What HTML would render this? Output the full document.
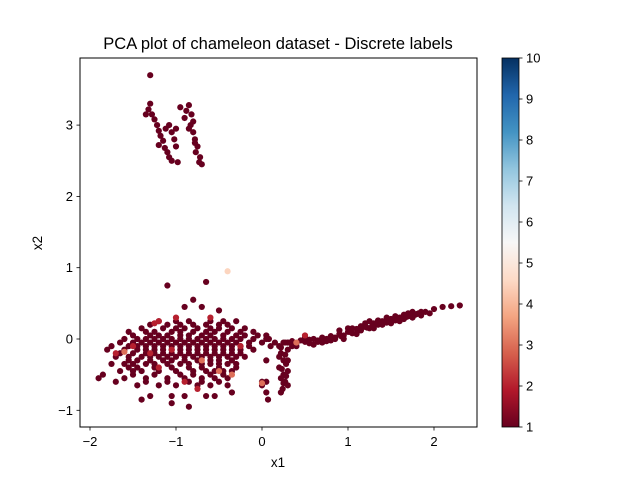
<!DOCTYPE html>
<html><head><meta charset="utf-8">
<style>
body{margin:0;background:#fff;}
svg{display:block;font-family:"Liberation Sans","DejaVu Sans",sans-serif;}
</style></head>
<body>
<svg id="chart" width="640" height="480" viewBox="0 0 640 480">
<defs>
<linearGradient id="cbg" x1="0" y1="1" x2="0" y2="0">
<stop offset="0" stop-color="#67001f"/><stop offset="0.1" stop-color="#b2182b"/><stop offset="0.2" stop-color="#d6604d"/><stop offset="0.3" stop-color="#f4a582"/><stop offset="0.4" stop-color="#fddbc7"/><stop offset="0.5" stop-color="#f7f7f7"/><stop offset="0.6" stop-color="#d1e5f0"/><stop offset="0.7" stop-color="#92c5de"/><stop offset="0.8" stop-color="#4393c3"/><stop offset="0.9" stop-color="#2166ac"/><stop offset="1" stop-color="#053061"/>
</linearGradient>
<clipPath id="pc"><rect x="80" y="58" width="397" height="369"/></clipPath>
</defs>
<text x="278" y="49" text-anchor="middle" font-size="16.5">PCA plot of chameleon dataset - Discrete labels</text>
<g id="marks" clip-path="url(#pc)"></g>
<rect x="80" y="58" width="397" height="369" fill="none" stroke="#000" stroke-width="1"/>
<g id="axes"></g>
<text x="278" y="467" text-anchor="middle" font-size="13.5">x1</text>
<text x="42" y="243" text-anchor="middle" font-size="13.5" transform="rotate(-90 42 243)">x2</text>
<rect x="502" y="58" width="17" height="369" fill="url(#cbg)" stroke="#000" stroke-width="0.8"/>
<g id="cbticks"></g>
</svg>
<script>
const xTicks=[-2,-1,0,1,2];
const yTicks=[-1,0,1,2,3];
const cbTicks=[1,2,3,4,5,6,7,8,9,10];
const xs=[-1.30,-1.32,-1.28,-1.25,-1.22,-1.2,-1.18,-1.15,-1.2,-1.13,-1.1,-1.08,-1.05,-1.12,-1.05,-1.0,-1.08,-1.02,-1.0,-0.98,-1.35,-1.3,
-0.85,-0.88,-0.82,-0.8,-0.83,-0.85,-0.8,-0.78,-0.75,-0.77,-0.72,-0.73,-0.7,-0.95,-0.9,-0.78,
0.30,0.35,0.40,0.45,0.50,0.55,0.60,0.65,0.70,0.75,0.80,0.85,0.90,0.95,1.00,1.05,1.10,1.15,1.20,1.25,1.30,1.35,1.40,1.45,1.50,1.55,1.60,1.65,1.70,1.75,1.80,1.85,1.90,1.95,2.0,2.1,2.2,2.3,1.0,1.1,1.2,1.3,1.4,1.5,1.6,1.7,0.9,0.8,0.7,0.5,0.6,1.45,1.55,1.25,1.05,0.95,1.15,1.35,1.65,1.75,1.85,
0.2,0.22,0.25,0.2,0.28,0.25,0.22,0.3,0.27,0.24,0.3,0.2,0.3,0.25,0.3,0.35,0.4,0.15,0.1,0.05,0.07,0.05,0.0,0.05,0.08,
-1.2,-1.0,-0.85,-0.6,-0.45,-0.3,
-1.4,-1.15,-1.0,-0.9,-0.75,-0.6,-0.5,-0.35,-0.2,
-1.5,-1.3,-1.2,-1.1,-0.95,-0.85,-0.7,-0.6,-0.45,-0.3,-0.2,-0.05,0.05,
-1.65,-1.5,-1.4,-1.3,-1.2,-1.1,-1.0,-0.9,-0.8,-0.7,-0.6,-0.5,-0.4,-0.3,-0.15,0.0,
-1.8,-1.6,-1.45,-1.35,-1.25,-1.15,-1.05,-0.95,-0.85,-0.75,-0.65,-0.55,-0.45,-0.35,-0.25,-0.1,
-1.7,-1.55,-1.4,-1.3,-1.2,-1.1,-1.0,-0.9,-0.8,-0.7,-0.6,-0.5,-0.4,-0.3,-0.2,
-1.75,-1.6,-1.5,-1.35,-1.25,-1.1,-0.95,-0.85,-0.7,-0.6,-0.5,-0.4,-0.3,
-1.65,-1.5,-1.4,-1.2,-1.0,-0.8,-0.65,-0.55,-0.45,-0.35,
-1.6,-1.35,-1.1,-0.9,-0.7,-0.55,-0.4,
-1.45,-1.2,-1.0,-0.75,-0.6,-0.4,
-1.3,-1.05,-0.9,-0.65,-0.55,
-1.9,-1.85,-1.7,-1.4,-1.05,-0.85,-1.1,-0.65,-0.8,-0.9,-0.7,-0.5,0.0,-0.35];
const ys=[3.30,3.22,3.15,3.08,3.0,2.92,2.85,2.78,2.72,2.68,2.62,2.55,2.5,2.95,2.9,2.95,3.0,2.8,2.7,2.48,3.15,3.7,
3.28,3.2,3.15,3.05,3.0,2.95,2.9,2.8,2.7,2.62,2.55,2.48,2.45,3.25,3.1,2.75,
-0.05,-0.03,-0.06,-0.02,-0.04,-0.01,0.0,-0.02,0.02,0.0,0.04,0.02,0.07,0.05,0.1,0.08,0.14,0.12,0.17,0.15,0.22,0.2,0.25,0.23,0.28,0.26,0.3,0.28,0.32,0.3,0.35,0.33,0.38,0.36,0.42,0.45,0.46,0.47,0.15,0.07,0.22,0.15,0.2,0.22,0.25,0.36,0.12,-0.02,-0.05,0.02,-0.08,0.3,0.32,0.25,0.15,0.0,0.18,0.26,0.34,0.38,0.38,
-0.1,-0.2,-0.3,-0.4,-0.35,-0.5,-0.55,-0.45,-0.6,-0.7,-0.65,-0.25,-0.15,-0.05,-0.05,-0.1,-0.1,-0.05,-0.1,-0.6,-0.85,-0.75,-0.65,-0.3,0.0,
0.25,0.25,0.25,0.25,0.25,0.25,
0.15,0.15,0.15,0.15,0.15,0.15,0.15,0.15,0.15,
0.05,0.05,0.05,0.05,0.05,0.05,0.05,0.05,0.05,0.05,0.05,0.05,0.05,
-0.05,-0.05,-0.05,-0.05,-0.05,-0.05,-0.05,-0.05,-0.05,-0.05,-0.05,-0.05,-0.05,-0.05,-0.05,-0.05,
-0.15,-0.15,-0.15,-0.15,-0.15,-0.15,-0.15,-0.15,-0.15,-0.15,-0.15,-0.15,-0.15,-0.15,-0.15,-0.15,
-0.25,-0.25,-0.25,-0.25,-0.25,-0.25,-0.25,-0.25,-0.25,-0.25,-0.25,-0.25,-0.25,-0.25,-0.25,
-0.35,-0.35,-0.35,-0.35,-0.35,-0.35,-0.35,-0.35,-0.35,-0.35,-0.35,-0.35,-0.35,
-0.45,-0.45,-0.45,-0.45,-0.45,-0.45,-0.45,-0.45,-0.45,-0.45,
-0.55,-0.55,-0.55,-0.55,-0.55,-0.55,-0.55,
-0.65,-0.65,-0.65,-0.65,-0.65,-0.65,
-0.8,-0.8,-0.8,-0.8,-0.8,
-0.55,-0.5,-0.6,-0.85,-0.9,-0.95,0.75,0.8,0.55,0.45,0.45,0.4,-0.6,-0.75];
const fillX=[-1.3,-1.1,-0.95,-0.8,-0.65,-0.5,-0.4,
-1.55,-1.35,-1.25,-1.05,-0.95,-0.8,-0.65,-0.55,-0.4,-0.25,-0.1,
-1.6,-1.45,-1.35,-1.25,-1.15,-1.05,-0.95,-0.85,-0.75,-0.65,-0.55,-0.45,-0.35,-0.25,-0.1,0.05,
-1.75,-1.55,-1.45,-1.35,-1.25,-1.15,-1.05,-0.95,-0.85,-0.75,-0.65,-0.55,-0.45,-0.35,-0.25,-0.15,
-1.65,-1.5,-1.35,-1.25,-1.15,-1.05,-0.95,-0.85,-0.75,-0.65,-0.55,-0.45,-0.35,-0.25,
-1.55,-1.45,-1.3,-1.15,-1.05,-0.9,-0.75,-0.6,-0.5,-0.35,
-1.55,-1.45,-1.25,-1.05,-0.85,-0.7,-0.5,-0.3,
-1.5,-1.25,-0.95,-0.8,-0.6,-0.45,
-1.35,-1.1,-0.85,-0.7,-0.5,
0.22,0.27,0.23,0.28,0.25,0.22,0.3,0.27,
0.55,0.65,0.75,0.85,1.12,1.22,1.32,1.42,1.52,1.62,1.72,1.82,1.02,0.92,1.38,1.48,1.58,1.68,1.78,1.28];
const fillY=[0.2,0.2,0.2,0.2,0.2,0.2,0.2,
0.1,0.1,0.1,0.1,0.1,0.1,0.1,0.1,0.1,0.1,0.1,
0.0,0.0,0.0,0.0,0.0,0.0,0.0,0.0,0.0,0.0,0.0,0.0,0.0,0.0,0.0,0.0,
-0.1,-0.1,-0.1,-0.1,-0.1,-0.1,-0.1,-0.1,-0.1,-0.1,-0.1,-0.1,-0.1,-0.1,-0.1,-0.1,
-0.2,-0.2,-0.2,-0.2,-0.2,-0.2,-0.2,-0.2,-0.2,-0.2,-0.2,-0.2,-0.2,-0.2,
-0.3,-0.3,-0.3,-0.3,-0.3,-0.3,-0.3,-0.3,-0.3,-0.3,
-0.4,-0.4,-0.4,-0.4,-0.4,-0.4,-0.4,-0.4,
-0.5,-0.5,-0.5,-0.5,-0.5,-0.5,
-0.6,-0.6,-0.6,-0.6,-0.6,
-0.12,-0.22,-0.42,-0.52,-0.62,-0.75,-0.3,-0.05,
-0.06,-0.04,-0.03,0.0,0.12,0.16,0.2,0.24,0.27,0.3,0.33,0.36,0.1,0.04,0.21,0.25,0.28,0.31,0.34,0.18];
const accentX=[-1.25,-1.2,-1.0,-1.6,-1.3,-0.7,-0.5,-0.9,-1.5,-0.25,-1.7,-0.6,-0.4,0.0,0.4,0.5,-0.35,-0.75,-1.2,-1.05];
const accentY=[0.22,0.25,0.3,-0.18,-0.2,-0.3,-0.45,-0.6,-0.1,-0.1,-0.2,0.3,0.95,-0.62,-0.05,0.05,-0.5,-0.7,-0.4,-0.15];
const accentLabel=[2,2,2,3,2,3,3,2,2,2,2,2,4.5,3,3,2,3,2,2,2];

const X=v=>262+86*v, Y=v=>339-71.3*v, CB=v=>427-41*(v-1);
const NS='http://www.w3.org/2000/svg';
const stops=[[0,[103,0,31]],[0.1,[178,24,43]],[0.2,[214,96,77]],[0.3,[244,165,130]],[0.4,[253,219,199]],[0.5,[247,247,247]],[0.6,[209,229,240]],[0.7,[146,197,222]],[0.8,[67,147,195]],[0.9,[33,102,172]],[1,[5,48,97]]];
function color(l){const t=(l-1)/9;for(let i=1;i<stops.length;i++){if(t<=stops[i][0]){const a=stops[i-1],b=stops[i],f=(t-a[0])/(b[0]-a[0]);return 'rgb('+a[1].map((c,k)=>Math.round(c+(b[1][k]-c)*f)).join(',')+')';}}return 'rgb(5,48,97)';}
const marks=document.getElementById('marks');
function dot(x,y,l){const c=document.createElementNS(NS,'circle');
c.setAttribute('cx',X(x));c.setAttribute('cy',Y(y));c.setAttribute('r',3.1);c.setAttribute('fill',color(l));


marks.appendChild(c);}
xs.forEach((x,i)=>dot(x,ys[i],1));
fillX.forEach((x,i)=>dot(x,fillY[i],1));
accentX.forEach((x,i)=>dot(x,accentY[i],accentLabel[i]));
const axes=document.getElementById('axes');
function line(x1,y1,x2,y2,p){const l=document.createElementNS(NS,'line');l.setAttribute('x1',x1);l.setAttribute('y1',y1);l.setAttribute('x2',x2);l.setAttribute('y2',y2);l.setAttribute('stroke','#000');l.setAttribute('stroke-width',0.8);p.appendChild(l);}
function txt(x,y,s,anchor,p,name){const t=document.createElementNS(NS,'text');t.setAttribute('x',x);t.setAttribute('y',y);t.setAttribute('text-anchor',anchor);t.setAttribute('font-size',13);t.textContent=s;


p.appendChild(t);}
xTicks.forEach(v=>{line(X(v),427,X(v),430.5,axes);txt(X(v),446,String(v).replace('-','\u2212'),'middle',axes,'x-tick-label');});
yTicks.forEach(v=>{line(80,Y(v),76.5,Y(v),axes);txt(73,Y(v)+4.5,String(v).replace('-','\u2212'),'end',axes,'y-tick-label');});
const cb=document.getElementById('cbticks');
cbTicks.forEach(v=>{line(519,CB(v),522.5,CB(v),cb);txt(526,CB(v)+4.5,String(v),'start',cb,'colorbar-tick-label');});
</script>
</body></html>
